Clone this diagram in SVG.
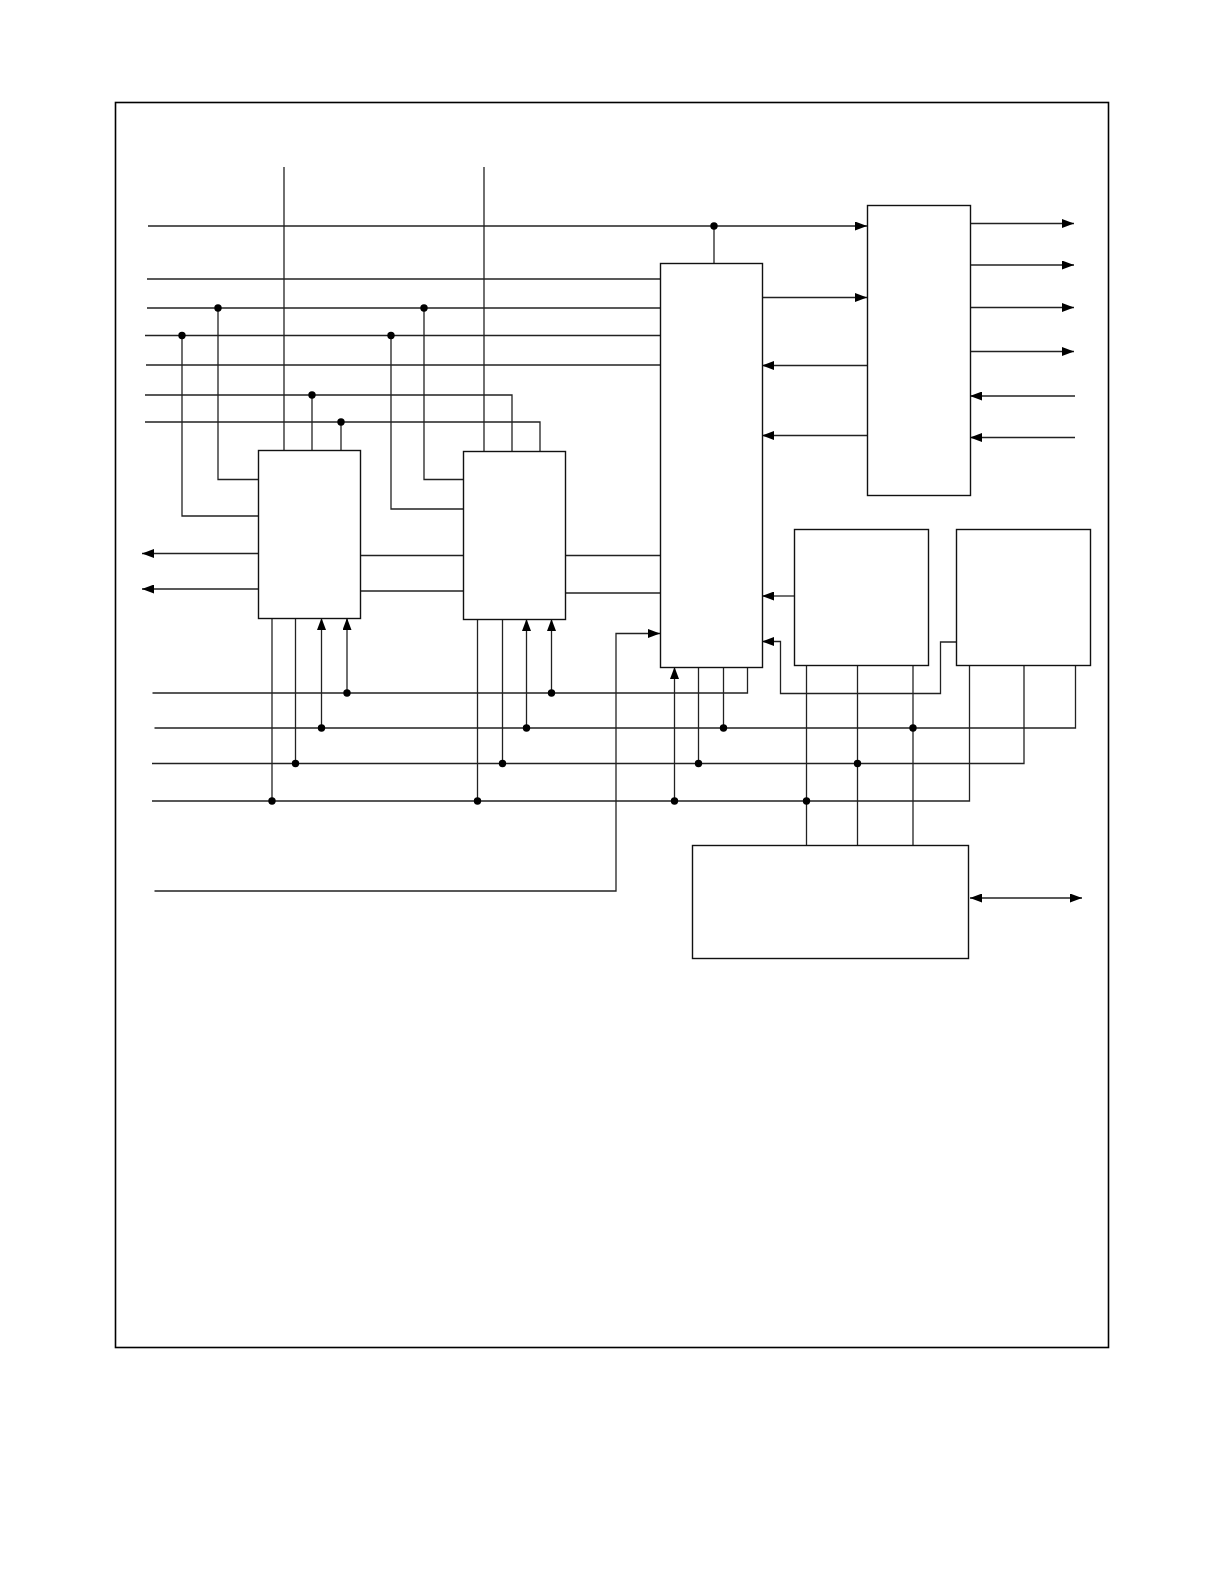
<svg xmlns="http://www.w3.org/2000/svg" width="1224" height="1584" viewBox="0 0 1224 1584">
<style>
.box{fill:#fff;stroke:#111;stroke-width:1.4}
.w{fill:none;stroke:#222;stroke-width:1.3}
.a{fill:none;stroke:#222;stroke-width:1.3;marker-end:url(#ah)}
.d{fill:#000}
</style>
<defs>
<marker id="ah" markerUnits="userSpaceOnUse" markerWidth="12" markerHeight="9" refX="12" refY="4.5" orient="auto-start-reverse" viewBox="0 0 12 9"><path d="M0,0 L12,4.5 L0,9 z" fill="#000"/></marker>
</defs>
<rect width="1224" height="1584" fill="#fff"/>
<rect id="frame" x="115.5" y="102.5" width="993" height="1245" fill="none" stroke="#000" stroke-width="1.6"/>

<g id="connectors">
<path class="w" d="M284,167 V450"/>
<path class="w" d="M484,167 V451"/>
<path class="a" d="M148,226 H867"/>
<path class="w" d="M714,226 V263"/>
<path class="w" d="M147,279 H660"/>
<path class="w" d="M147,308 H660"/>
<path class="w" d="M145,335.5 H660"/>
<path class="w" d="M146,365 H660"/>
<path class="w" d="M145,395 H512 V451"/>
<path class="w" d="M145,422 H540 V451"/>
<path class="w" d="M312,395 V450"/>
<path class="w" d="M341,422 V450"/>
<path class="w" d="M218,308 V479.5 H258"/>
<path class="w" d="M182,335.5 V516 H258"/>
<path class="w" d="M424,308 V479.5 H463"/>
<path class="w" d="M391,335.5 V509 H463"/>
<path class="a" d="M258,553.5 H142"/>
<path class="a" d="M258,589 H142"/>
<path class="w" d="M360,555.5 H463"/>
<path class="w" d="M360,591 H463"/>
<path class="w" d="M565,555.5 H660"/>
<path class="w" d="M565,593 H660"/>
<path class="a" d="M763,297.5 H867"/>
<path class="a" d="M867,365.5 H762"/>
<path class="a" d="M867,435.5 H762"/>
<path class="a" d="M970,223.5 H1074"/>
<path class="a" d="M970,265 H1074"/>
<path class="a" d="M970,307.5 H1074"/>
<path class="a" d="M970,351.5 H1074"/>
<path class="a" d="M1075,396 H970"/>
<path class="a" d="M1075,437.5 H970"/>
<path class="a" d="M794,596 H762"/>
<path class="a" d="M956,642 H940.5 V693.5 H780.5 V641.5 H762"/>
<path class="a" d="M154.5,891 H616 V633.5 H660"/>
<path class="w" d="M152.5,693 H747.5 V667"/>
<path class="w" d="M154.5,728 H1075.5 V665"/>
<path class="w" d="M152,763.5 H1024 V665"/>
<path class="w" d="M152,801 H969.5 V665"/>
<path class="w" d="M272,618 V801"/>
<path class="w" d="M295.5,618 V763.5"/>
<path class="a" d="M321.5,728 V618"/>
<path class="a" d="M347,693 V618"/>
<path class="w" d="M477.5,619 V801"/>
<path class="w" d="M502.5,619 V763.5"/>
<path class="a" d="M526.5,728 V619"/>
<path class="a" d="M551.5,693 V619"/>
<path class="a" d="M674.5,801 V667"/>
<path class="w" d="M698.5,667 V763.5"/>
<path class="w" d="M723.5,667 V728"/>
<path class="w" d="M806.5,665 V845"/>
<path class="w" d="M857.5,665 V845"/>
<path class="w" d="M913,665 V845"/>
<path class="a" style="marker-start:url(#ah)" d="M970,898 H1082"/>
<g class="d">
<circle cx="714" cy="226" r="3.7"/>
<circle cx="218" cy="308" r="3.7"/>
<circle cx="424" cy="308" r="3.7"/>
<circle cx="182" cy="335.5" r="3.7"/>
<circle cx="391" cy="335.5" r="3.7"/>
<circle cx="312" cy="395" r="3.7"/>
<circle cx="341" cy="422" r="3.7"/>
<circle cx="347" cy="693" r="3.7"/>
<circle cx="551.5" cy="693" r="3.7"/>
<circle cx="321.5" cy="728" r="3.7"/>
<circle cx="526.5" cy="728" r="3.7"/>
<circle cx="723.5" cy="728" r="3.7"/>
<circle cx="913" cy="728" r="3.7"/>
<circle cx="295.5" cy="763.5" r="3.7"/>
<circle cx="502.5" cy="763.5" r="3.7"/>
<circle cx="698.5" cy="763.5" r="3.7"/>
<circle cx="857.5" cy="763.5" r="3.7"/>
<circle cx="272" cy="801" r="3.7"/>
<circle cx="477.5" cy="801" r="3.7"/>
<circle cx="674.5" cy="801" r="3.7"/>
<circle cx="806.5" cy="801" r="3.7"/>
</g>
</g>

<g id="box1"><rect class="box" x="258.5" y="450.5" width="102" height="168"/></g>
<g id="box2"><rect class="box" x="463.5" y="451.5" width="102" height="168"/></g>
<g id="box3"><rect class="box" x="660.5" y="263.5" width="102" height="404"/></g>
<g id="box4"><rect class="box" x="867.5" y="205.5" width="103" height="290"/></g>
<g id="box5"><rect class="box" x="794.5" y="529.5" width="134" height="136"/></g>
<g id="box6"><rect class="box" x="956.5" y="529.5" width="134" height="136"/></g>
<g id="box7"><rect class="box" x="692.5" y="845.5" width="276" height="113"/></g>
</svg>
